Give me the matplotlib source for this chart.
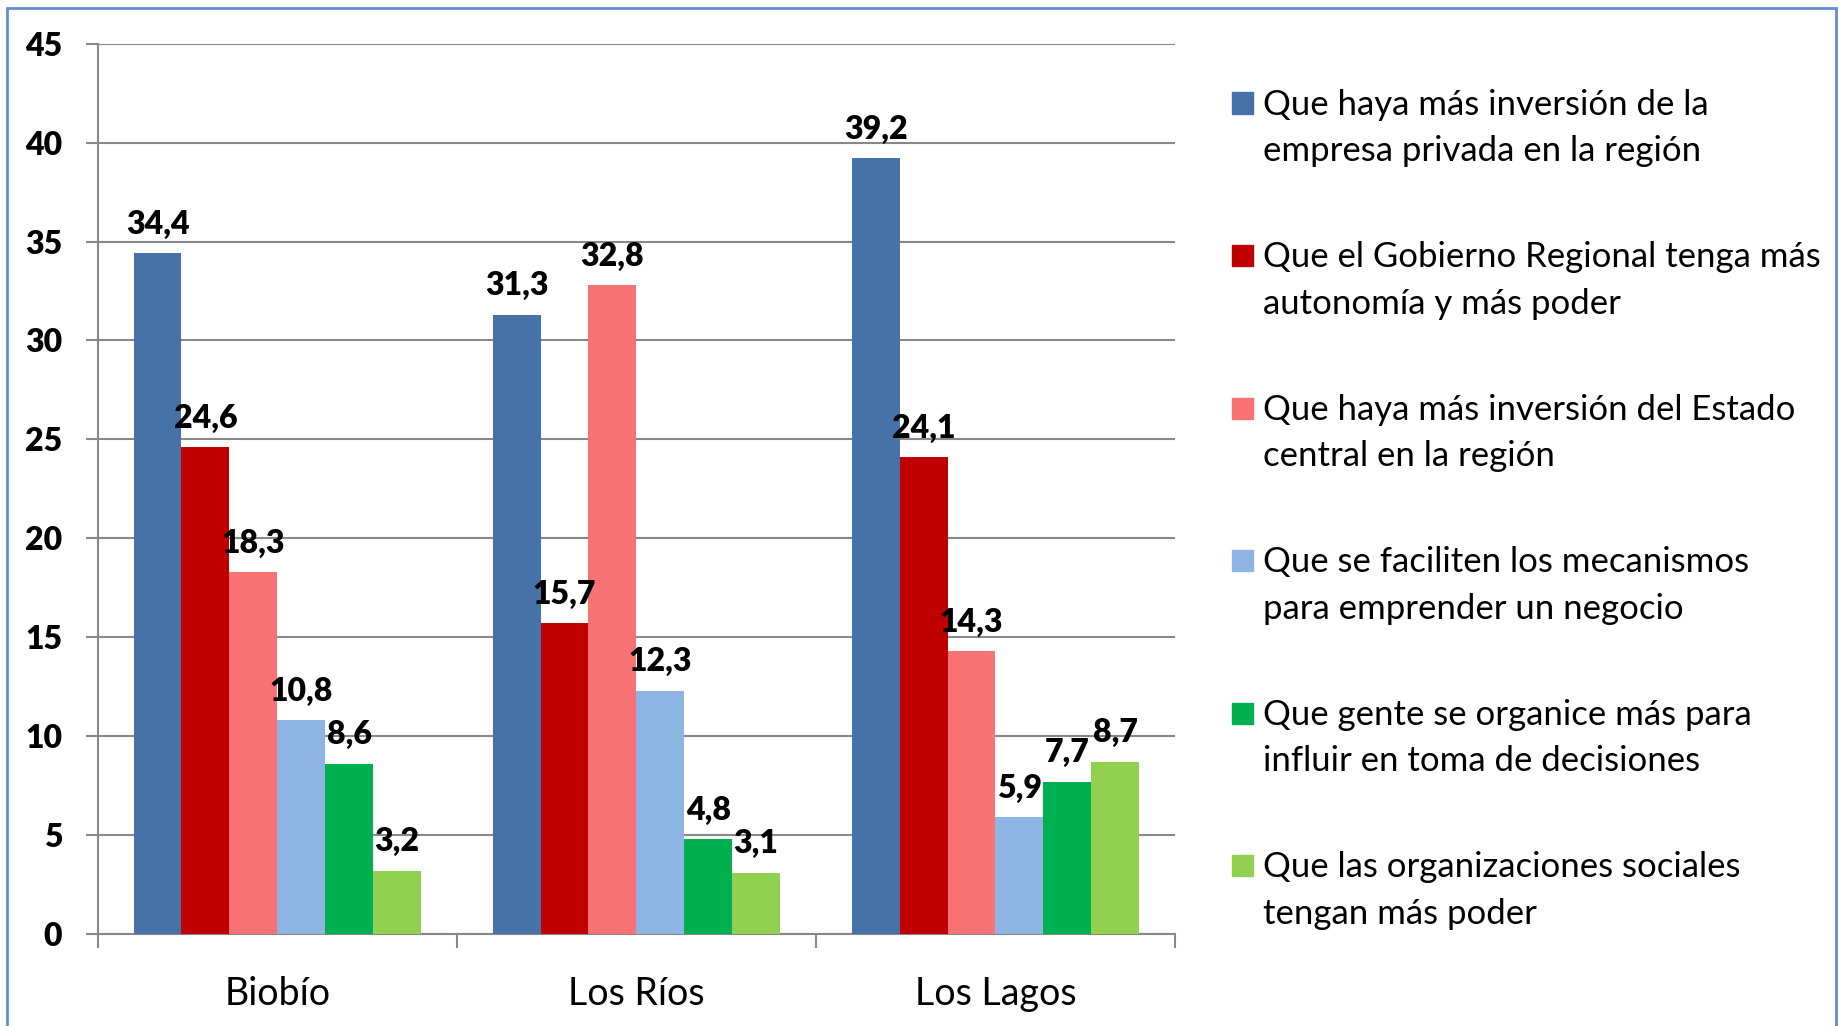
import matplotlib
matplotlib.use("Agg")
import matplotlib.pyplot as plt
import numpy as np
from matplotlib.patches import Rectangle

plt.rcParams["font.family"] = ["Lato", "DejaVu Sans"]

regions = ["Biobío", "Los Ríos", "Los Lagos"]
series_labels = [
    "Que haya más inversión de la\nempresa privada en la región",
    "Que el Gobierno Regional tenga más\nautonomía y más poder",
    "Que haya más inversión del Estado\ncentral en la región",
    "Que se faciliten los mecanismos\npara emprender un negocio",
    "Que gente se organice más para\ninfluir en toma de decisiones",
    "Que las organizaciones sociales\ntengan más poder",
]
colors = ["#4672A8", "#C00000", "#F87474", "#8EB4E3", "#00B050", "#92D050"]

inversion_privada = [34.4, 31.3, 39.2]
gobierno_regional = [24.6, 15.7, 24.1]
inversion_estado = [18.3, 32.8, 14.3]
emprender = [10.8, 12.3, 5.9]
gente_organizada = [8.6, 4.8, 7.7]
organizaciones = [3.2, 3.1, 8.7]
values = [inversion_privada, gobierno_regional, inversion_estado,
          emprender, gente_organizada, organizaciones]

W, H = 1839, 1026
fig = plt.figure(figsize=(W / 100, H / 100), dpi=100)
ax = fig.add_axes([97.7 / W, 1 - 934 / H, (1175 - 97.7) / W, (934 - 43.7) / H])

x = np.arange(len(regions))
width = 0.8 / len(values)
for i, (vals, col) in enumerate(zip(values, colors)):
    pos = x + (i - (len(values) - 1) / 2) * width
    bars = ax.bar(pos, vals, width=width, color=col, zorder=3)
    for b, v in zip(bars, vals):
        ax.annotate(f"{v:.1f}".replace(".", ","),
                    (b.get_x() + b.get_width() / 2, v),
                    xytext=(0, 14), textcoords="offset points",
                    ha="center", va="baseline", fontsize=23,
                    fontweight="heavy", zorder=4)

grid_col = "#888888"
ax.set_ylim(0, 45)
ax.set_xlim(-0.5, 2.5)
ax.set_yticks(range(0, 46, 5))
ax.yaxis.grid(True, color=grid_col, linewidth=1.5, zorder=0)
ax.set_xticks(x)
ax.set_xticklabels(regions, fontsize=27)
ax.set_xticks([-0.5, 0.5, 1.5, 2.5], minor=True)
ax.tick_params(axis="x", which="major", length=0, pad=30)
ax.tick_params(axis="x", which="minor", length=10, width=1.5, color=grid_col)
ax.tick_params(axis="y", length=8.5, width=1.5, color=grid_col, pad=17,
               labelsize=23)
for lab in ax.get_yticklabels():
    lab.set_fontweight("heavy")
for side in ("top", "right"):
    ax.spines[side].set_visible(False)
for side in ("left", "bottom"):
    ax.spines[side].set_color(grid_col)
    ax.spines[side].set_linewidth(1.5)

# legend drawn by hand: square marker + two-line label
for i, (lab, col) in enumerate(zip(series_labels, colors)):
    yc = 103 + i * 152.5
    fig.add_artist(Rectangle((1232 / W, 1 - (yc + 10.5) / H), 21 / W, 21 / H,
                             transform=fig.transFigure, color=col))
    fig.text(1263 / W, 1 - (yc + 25) / H, lab, fontsize=25,
             va="center", ha="left", linespacing=1.55)

# outer frame
fig.add_artist(Rectangle((7 / W, -0.05), (1836 - 7) / W, 1.05 - 8 / H,
                         transform=fig.transFigure, fill=False,
                         edgecolor="#5B8ED6", linewidth=2))

fig.savefig("out.png", dpi=100)
